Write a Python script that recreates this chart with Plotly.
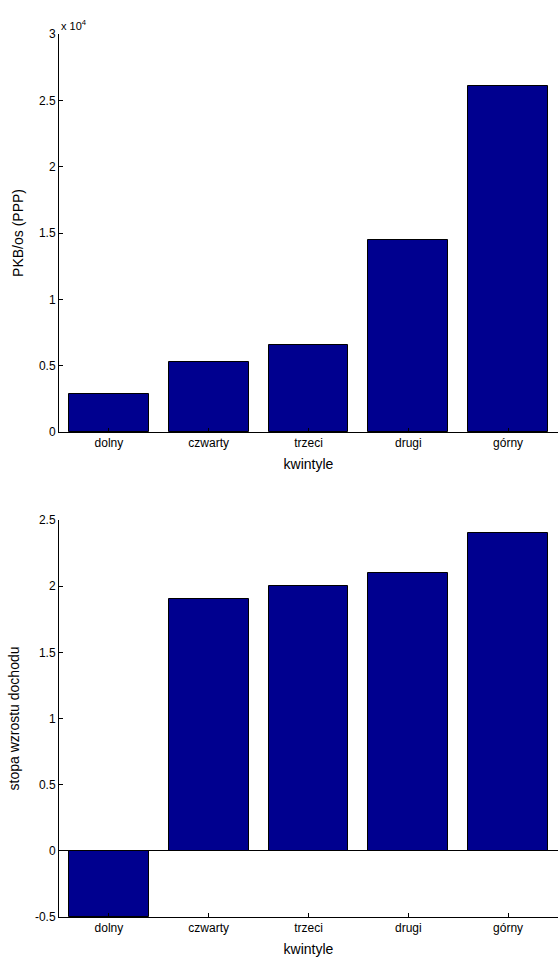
import plotly.graph_objects as go

# Income quintiles, poorest to richest
kwintyle = ["dolny", "czwarty", "trzeci", "drugi", "górny"]
pkb_na_osobe = [2850, 5250, 6550, 14500, 26100]      # GDP per capita (PPP)
stopa_wzrostu = [-0.5, 1.9, 2.0, 2.1, 2.4]            # income growth rate

top_ticks = [0, 5000, 10000, 15000, 20000, 25000, 30000]
top_ticktext = ["0", "0.5", "1", "1.5", "2", "2.5", "3"]
bottom_ticks = [-0.5, 0, 0.5, 1, 1.5, 2, 2.5]
bottom_ticktext = ["-0.5", "0", "0.5", "1", "1.5", "2", "2.5"]

W, H = 558, 961
FONT = "Liberation Sans, Arial, Helvetica, sans-serif"
BAR_COLOR = "#00008F"
TICK_SIZE = 12
TITLE_SIZE = 14

fig = go.Figure()
x_pos = list(range(1, len(kwintyle) + 1))

fig.add_trace(go.Bar(x=x_pos, y=pkb_na_osobe, width=0.8,
                     marker=dict(color=BAR_COLOR, line=dict(color="black", width=1)),
                     xaxis="x", yaxis="y", showlegend=False))
fig.add_trace(go.Bar(x=x_pos, y=stopa_wzrostu, width=0.8,
                     marker=dict(color=BAR_COLOR, line=dict(color="black", width=1)),
                     xaxis="x2", yaxis="y2", showlegend=False))

def px_to_paper(px):
    return 1 - px / H

common_x = dict(range=[0.5, 5.5], tickvals=x_pos, ticktext=kwintyle,
                showline=True, linecolor="black", linewidth=1,
                ticks="inside", ticklen=4, tickcolor="black",
                showgrid=False, zeroline=False, automargin=False,
                tickfont=dict(family=FONT, size=TICK_SIZE, color="black"),
                title=dict(text="kwintyle", font=dict(family=FONT, size=TITLE_SIZE, color="black"),
                           standoff=9))
common_y = dict(showline=True, linecolor="black", linewidth=1, automargin=False,
                ticks="inside", ticklen=4, tickcolor="black", showgrid=False,
                tickfont=dict(family=FONT, size=TICK_SIZE, color="black"))

fig.update_layout(
    width=W, height=H,
    margin=dict(l=59, r=0, t=0, b=0),
    paper_bgcolor="white", plot_bgcolor="white",
    bargap=0,
    xaxis=dict(domain=[0, 1], anchor="y", **common_x),
    yaxis=dict(domain=[px_to_paper(432), px_to_paper(34)], anchor="x",
               range=[0, 30000], tickvals=top_ticks, ticktext=top_ticktext,
               zeroline=False,
               title=dict(text="PKB/os (PPP)", font=dict(family=FONT, size=TITLE_SIZE, color="black"),
                          standoff=12),
               **common_y),
    xaxis2=dict(domain=[0, 1], anchor="y2", **common_x),
    yaxis2=dict(domain=[px_to_paper(917), px_to_paper(520)], anchor="x2",
                range=[-0.5, 2.5], tickvals=bottom_ticks, ticktext=bottom_ticktext,
                zeroline=True, zerolinecolor="black", zerolinewidth=1,
                title=dict(text="stopa wzrostu dochodu",
                           font=dict(family=FONT, size=TITLE_SIZE, color="black"), standoff=12),
                **common_y),
    annotations=[dict(text="x 10<sup>4</sup>", xref="paper", yref="paper",
                      x=0, y=px_to_paper(34), xanchor="left", yanchor="bottom",
                      showarrow=False, font=dict(family=FONT, size=11, color="black"))],
)

fig.write_html("out.html")
